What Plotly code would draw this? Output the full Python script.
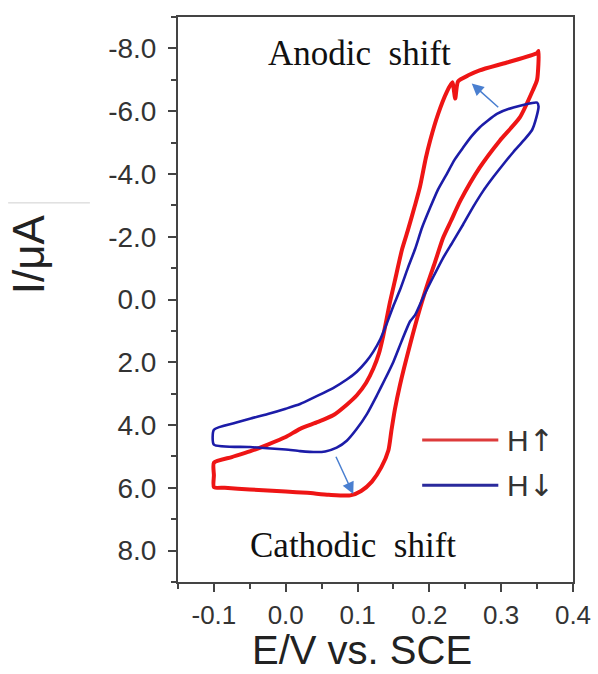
import plotly.graph_objects as go

# ---- data ----
red_E = [-0.100, -0.075, -0.050, -0.025, 0.000, 0.020, 0.045, 0.066, 0.085, 0.099,
         0.112, 0.122, 0.130, 0.136, 0.145, 0.152, 0.162, 0.170, 0.180, 0.187,
         0.195, 0.201, 0.212, 0.224, 0.232, 0.236, 0.240, 0.255, 0.270, 0.308,
         0.350,
         0.352, 0.350, 0.344, 0.326, 0.298, 0.270, 0.243, 0.230, 0.219, 0.208,
         0.199, 0.187, 0.173, 0.159, 0.152, 0.147, 0.143, 0.133, 0.120, 0.105,
         0.090, 0.060, 0.030, 0.000, -0.050, -0.085, -0.100, -0.100, -0.100]
red_I = [5.20, 5.02, 4.84, 4.62, 4.38, 4.12, 3.90, 3.69, 3.35, 3.05,
         2.65, 2.20, 1.70, 1.13, 0.10, -0.60, -1.60, -2.20, -3.00, -3.60,
         -4.50, -5.06, -5.90, -6.60, -6.92, -6.40, -6.95, -7.15, -7.30, -7.55,
         -7.85,
         -7.92, -7.00, -6.66, -5.80, -5.06, -4.20, -3.14, -2.50, -1.96, -1.20,
         -0.60, 0.28, 1.45, 2.73, 3.50, 4.20, 4.80, 5.35, 5.80, 6.10,
         6.24, 6.22, 6.16, 6.12, 6.05, 6.00, 5.98, 5.60, 5.20]

blue_E = [-0.100, -0.070, -0.050, -0.025, 0.000, 0.020, 0.043, 0.066, 0.085, 0.099,
          0.112, 0.122, 0.132, 0.141, 0.150, 0.159, 0.170, 0.180, 0.190, 0.201,
          0.212, 0.224, 0.235, 0.247, 0.258, 0.270, 0.294, 0.317, 0.350,
          0.352, 0.349, 0.343, 0.331, 0.317, 0.303, 0.289, 0.275, 0.261, 0.247,
          0.233, 0.219, 0.205, 0.192, 0.180, 0.173, 0.161, 0.150, 0.138, 0.127,
          0.113, 0.099, 0.085, 0.071, 0.055, 0.043, 0.020, 0.000, -0.050, -0.100,
          -0.100]
blue_I = [4.15, 3.93, 3.80, 3.65, 3.48, 3.33, 3.08, 2.82, 2.55, 2.30,
          1.98, 1.66, 1.25, 0.75, 0.20, -0.30, -1.00, -1.60, -2.30, -2.92,
          -3.50, -3.99, -4.45, -4.84, -5.18, -5.48, -5.91, -6.12, -6.27,
          -6.15, -5.80, -5.40, -5.06, -4.70, -4.31, -3.90, -3.46, -2.95, -2.39,
          -1.85, -1.32, -0.70, -0.10, 0.50, 0.70, 1.35, 1.98, 2.55, 3.05,
          3.65, 4.12, 4.50, 4.72, 4.84, 4.86, 4.83, 4.78, 4.70, 4.62,
          4.15]

series_names = ["H↑", "H↓"]
x_tickvals = [-0.1, 0.0, 0.1, 0.2, 0.3, 0.4]
x_ticktext = ["-0.1", "0.0", "0.1", "0.2", "0.3", "0.4"]
y_tickvals = [-8, -6, -4, -2, 0, 2, 4, 6, 8]
y_ticktext = ["-8.0", "-6.0", "-4.0", "-2.0", "0.0", "2.0", "4.0", "6.0", "8.0"]
x_title = "E/V vs. SCE"
y_title = "I/μA"

RED = "#ee1515"
BLUE = "#1c1ca8"
AXC = "#444444"
SANS = "Liberation Sans, Arial, sans-serif"
SERIF = "Liberation Serif, Times New Roman, serif"

fig = go.Figure()
fig.add_trace(go.Scatter(x=red_E, y=red_I, mode="lines", name=series_names[0],
                         line=dict(color=RED, width=4, shape="spline", smoothing=0.6),
                         showlegend=False))
fig.add_trace(go.Scatter(x=blue_E, y=blue_I, mode="lines", name=series_names[1],
                         line=dict(color=BLUE, width=2.6, shape="spline", smoothing=0.6),
                         showlegend=False))

# manual legend (long key lines as in the reference)
leg_y = [4.48, 5.92]
leg_cols = ["#dd3b3b", "#2a2a9c"]
arrows = ["↑", "↓"]
for yy, col, arr in zip(leg_y, leg_cols, arrows):
    fig.add_shape(type="line", xref="x", yref="y", x0=0.19, x1=0.296, y0=yy, y1=yy,
                  line=dict(color=col, width=3))
    fig.add_annotation(x=0.305, y=yy, xref="x", yref="y",
                       text="H<span style='font-family:DejaVu Sans'>" + arr + "</span>",
                       showarrow=False, xanchor="left", yanchor="middle",
                       font=dict(family=SANS, size=30, color="#333333"))

# text labels
fig.add_annotation(x=0.103, y=-7.84, xref="x", yref="y", text="Anodic\u00a0\u00a0shift",
                   showarrow=False, font=dict(family=SERIF, size=35, color="#111111"))
fig.add_annotation(x=0.094, y=7.84, xref="x", yref="y", text="Cathodic\u00a0\u00a0shift",
                   showarrow=False, font=dict(family=SERIF, size=35, color="#111111"))

# arrows
ARC = "#4a7fd0"
fig.add_annotation(x=0.259, y=-6.88, ax=0.298, ay=-6.08, xref="x", yref="y",
                   axref="x", ayref="y", text="", showarrow=True, arrowhead=2,
                   arrowsize=1.6, arrowwidth=1.5, arrowcolor=ARC)
fig.add_annotation(x=0.094, y=6.2, ax=0.069, ay=4.96, xref="x", yref="y",
                   axref="x", ayref="y", text="", showarrow=True, arrowhead=2,
                   arrowsize=1.6, arrowwidth=1.5, arrowcolor=ARC)

# axis titles placed as in the reference (y title sits above centre)
fig.add_annotation(x=-0.38, y=0.58, xref="paper", yref="paper", text=y_title,
                   textangle=-90, showarrow=False, xanchor="center", yanchor="middle",
                   font=dict(family=SANS, size=44, color="#222222"))
fig.add_annotation(x=0.466, y=-0.1611, xref="paper", yref="paper", text=x_title,
                   showarrow=False, xanchor="center", yanchor="bottom", borderpad=0,
                   font=dict(family=SANS, size=40, color="#222222"))

# faint artefact line next to the y title
fig.add_shape(type="line", xref="paper", yref="paper", x0=-0.43, x1=-0.223,
              y0=0.671, y1=0.671, line=dict(color="#cfcfcf", width=1))

fig.update_layout(
    width=598, height=674,
    margin=dict(l=178, r=25, t=17, b=92),
    paper_bgcolor="white", plot_bgcolor="white",
    template="none",
    showlegend=False,
)
fig.update_xaxes(
    range=[-0.15, 0.4], tickmode="array", tickvals=x_tickvals, ticktext=x_ticktext,
    showgrid=False, zeroline=False, showline=True, linecolor=AXC, linewidth=2, mirror=True,
    ticks="outside", ticklen=8, tickwidth=2, tickcolor=AXC,
    tickfont=dict(family=SANS, size=26, color="#333333"),
    ticklabelstandoff=1,
    minor=dict(tickmode="linear", tick0=-0.15, dtick=0.1, ticks="outside", ticklen=5,
               tickwidth=2, tickcolor=AXC, showgrid=False),
    automargin=False,
)
fig.update_yaxes(
    range=[9, -9], tickmode="array", tickvals=y_tickvals, ticktext=y_ticktext,
    showgrid=False, zeroline=False, showline=True, linecolor=AXC, linewidth=2, mirror=True,
    ticks="outside", ticklen=8, tickwidth=2, tickcolor=AXC,
    tickfont=dict(family=SANS, size=28, color="#333333"),
    ticklabelstandoff=6,
    minor=dict(tickmode="linear", tick0=-9, dtick=2, ticks="outside", ticklen=5,
               tickwidth=2, tickcolor=AXC, showgrid=False),
    automargin=False,
)

fig.write_html("out.html")
